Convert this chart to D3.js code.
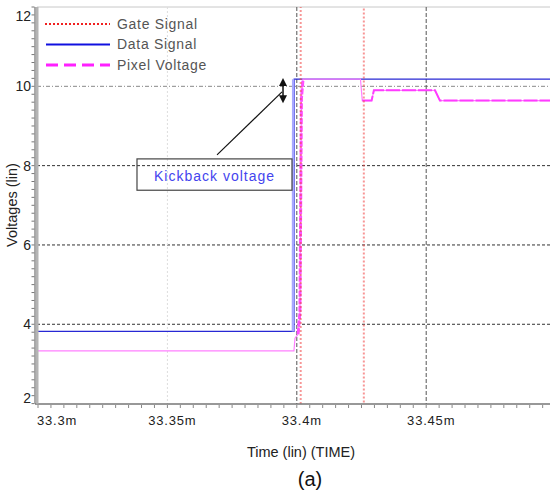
<!DOCTYPE html>
<html>
<head>
<meta charset="utf-8">
<script src="https://cdn.jsdelivr.net/npm/d3@7"></script>
<style>
  body { margin: 0; background: #fff; }
  text { font-family: "Liberation Sans", Arial, sans-serif; }
</style>
</head>
<body>
<svg width="550" height="490"></svg>
<script>
// time in ms, voltages in V
const dataTime = [33.3, 33.3989, 33.3990, 33.5];
const dataVolt = [3.82, 3.82, 10.18, 10.18];

const pixelTime = [33.3, 33.3989, 33.3993, 33.4005, 33.4012, 33.4018, 33.4024, 33.4246, 33.4253, 33.4289, 33.4298, 33.4534, 33.4553, 33.5];
const pixelVolt = [3.33, 3.33, 3.65, 3.75, 4.3, 9.7, 10.18, 10.18, 9.64, 9.64, 9.9, 9.9, 9.64, 9.64];

const gateTime = [33.3, 33.4015, 33.4015, 33.4259, 33.4259, 33.5];
const gateVolt = [-5, -5, 20, 20, -5, -5];

const xTicks = [33.3, 33.35, 33.4, 33.45];
const xTickLabels = ["33.3m", "33.35m", "33.4m", "33.45m"];
const yTicks = [2, 4, 6, 8, 10, 12];

const legendItems = ["Gate Signal", "Data Signal", "Pixel Voltage"];

const svg = d3.select("svg");

const x = d3.scaleLinear().domain([33.3, 33.5]).range([38, 555.6]);
const y = d3.scaleLinear().domain([2, 12]).range([403.6, 7]);

const plotLeft = 37, plotRight = 550;

svg.append("defs").append("clipPath").attr("id", "clip")
    .append("rect").attr("x", plotLeft).attr("y", y(12)).attr("width", plotRight - plotLeft).attr("height", y(2) - y(12));

// gridlines
const grid = svg.append("g");
grid.append("line")
    .attr("x1", plotLeft).attr("x2", plotRight).attr("y1", y(12)).attr("y2", y(12))
    .attr("stroke", "#c8c8c8").attr("stroke-width", 1);

[4, 6, 8].forEach(v => {
    grid.append("line")
        .attr("x1", plotLeft).attr("x2", plotRight).attr("y1", y(v)).attr("y2", y(v))
        .attr("stroke", "#333").attr("stroke-width", 1).attr("stroke-dasharray", "3,2");
});
grid.append("line")
    .attr("x1", plotLeft).attr("x2", plotRight).attr("y1", y(10)).attr("y2", y(10))
    .attr("stroke", "#888").attr("stroke-width", 1).attr("stroke-dasharray", "4,2,1,2");

grid.append("line")
    .attr("x1", x(33.35)).attr("x2", x(33.35)).attr("y1", y(12)).attr("y2", y(2))
    .attr("stroke", "#ddd").attr("stroke-width", 1).attr("stroke-dasharray", "2,2");
[33.4, 33.45].forEach(t => {
    grid.append("line")
        .attr("x1", x(t)).attr("x2", x(t)).attr("y1", y(12)).attr("y2", y(2))
        .attr("stroke", "#555").attr("stroke-width", 1).attr("stroke-dasharray", "4,2");
});

// series
const plot = svg.append("g").attr("clip-path", "url(#clip)");
const line = d3.line().x(d => x(d[0])).y(d => y(d[1]));
const pixelPts = d3.zip(pixelTime, pixelVolt);

plot.append("path")
    .datum(d3.zip(dataTime, dataVolt))
    .attr("d", line)
    .attr("fill", "none").attr("stroke", "#2828d4").attr("stroke-width", 1.3);

plot.append("path")
    .datum(d3.zip(dataTime, dataVolt).slice(1, 3))
    .attr("d", line)
    .attr("fill", "none").attr("stroke", "#a8a8ff").attr("stroke-width", 2.5)
    .attr("transform", "translate(-1,0)");

// thin trace for the whole pixel voltage
plot.append("path")
    .datum(pixelPts)
    .attr("d", line)
    .attr("fill", "none").attr("stroke", "#ff80ff").attr("stroke-width", 1.2);

// heavier dashed parts (charging edge and after gate turns off)
plot.append("path")
    .datum(pixelPts.slice(3, 7))
    .attr("d", line)
    .attr("fill", "none").attr("stroke", "#ff50ff").attr("stroke-width", 3)
    .attr("stroke-dasharray", "6,1.5");
plot.append("path")
    .datum(pixelPts.slice(8))
    .attr("d", line)
    .attr("fill", "none").attr("stroke", "#ff3cff").attr("stroke-width", 2)
    .attr("stroke-dasharray", "14,2");

plot.append("path")
    .datum(d3.zip(gateTime, gateVolt))
    .attr("d", line)
    .attr("fill", "none").attr("stroke", "#f04040").attr("stroke-width", 2)
    .attr("stroke-opacity", 0.55).attr("stroke-dasharray", "2,2");

// x axis
const xAxisY = 404;
svg.append("line")
    .attr("x1", plotLeft - 2).attr("x2", plotRight).attr("y1", xAxisY).attr("y2", xAxisY)
    .attr("stroke", "#333").attr("stroke-width", 1.2);
const xMinor = d3.range(0, 41).map(i => 33.3 + i * 0.005);
svg.append("g").selectAll("line").data(xMinor).join("line")
    .attr("x1", d => x(d)).attr("x2", d => x(d))
    .attr("y1", xAxisY + 1).attr("y2", d => xAxisY + 4)
    .attr("stroke", "#888").attr("stroke-width", 1);
svg.append("g").selectAll("text").data(xTicks).join("text")
    .attr("x", (d, i) => i === 0 ? x(d) - 1 : x(d) + 5)
    .attr("y", 425)
    .attr("text-anchor", (d, i) => i === 0 ? "start" : "middle")
    .attr("font-size", 13).attr("letter-spacing", 0.8).attr("fill", "#222")
    .text((d, i) => xTickLabels[i]);

svg.append("text")
    .attr("x", 301).attr("y", 457).attr("text-anchor", "middle")
    .attr("font-size", 14.5).attr("fill", "#222")
    .text("Time (lin) (TIME)");

// y axis
svg.append("rect").attr("x", 34.5).attr("y", y(12)).attr("width", 1).attr("height", y(2) - y(12)).attr("fill", "#555");
svg.append("rect").attr("x", 36).attr("y", y(12)).attr("width", 2.5).attr("height", y(2) - y(12)).attr("fill", "#b4b4b4");
const yMinor = d3.range(0, 51).map(i => 2 + i * 0.2);
svg.append("g").selectAll("line").data(yMinor).join("line")
    .attr("x1", 31.5).attr("x2", 34.5)
    .attr("y1", d => y(d)).attr("y2", d => y(d))
    .attr("stroke", "#777").attr("stroke-width", 1);
svg.append("g").selectAll("text").data(yTicks).join("text")
    .attr("x", 31)
    .attr("y", d => d === 12 ? y(d) + 14 : d === 2 ? y(d) - 1 : y(d) + 5)
    .attr("text-anchor", "end")
    .attr("font-size", 14).attr("fill", "#222")
    .text(d => d);

svg.append("text")
    .attr("transform", "translate(17,205) rotate(-90)")
    .attr("text-anchor", "middle")
    .attr("font-size", 14.5).attr("fill", "#222")
    .text("Voltages (lin)");

// legend
const legend = svg.append("g");
const legendY = [24, 44.5, 65];
legend.append("line").attr("x1", 45).attr("x2", 110).attr("y1", legendY[0]).attr("y2", legendY[0])
    .attr("stroke", "#f02020").attr("stroke-width", 2).attr("stroke-dasharray", "2,2");
legend.append("line").attr("x1", 46).attr("x2", 110).attr("y1", legendY[1]).attr("y2", legendY[1])
    .attr("stroke", "#1010e0").attr("stroke-width", 2);
legend.append("line").attr("x1", 46).attr("x2", 110).attr("y1", legendY[2]).attr("y2", legendY[2])
    .attr("stroke", "#ff20ff").attr("stroke-width", 3).attr("stroke-dasharray", "12,6");
legend.selectAll("text").data(legendItems).join("text")
    .attr("x", 117).attr("y", (d, i) => legendY[i] + 4.5)
    .attr("font-size", 14).attr("letter-spacing", 0.7).attr("fill", "#555")
    .text(d => d);

// kickback annotation
const ann = svg.append("g");
ann.append("rect")
    .attr("x", x(33.33825)).attr("y", y(8.17))
    .attr("width", x(33.39815) - x(33.33825)).attr("height", y(7.38) - y(8.17))
    .attr("fill", "none").attr("stroke", "#444").attr("stroke-width", 1.2);
ann.append("text")
    .attr("x", (x(33.33825) + x(33.39815)) / 2).attr("y", 181)
    .attr("text-anchor", "middle")
    .attr("font-size", 14).attr("letter-spacing", 1).attr("fill", "#4444ee")
    .text("Kickback voltage");
ann.append("line")
    .attr("x1", x(33.36917)).attr("y1", y(8.27))
    .attr("x2", x(33.39428)).attr("y2", y(9.86))
    .attr("stroke", "#111").attr("stroke-width", 1.2);

const ax = x(33.39467), aTop = y(10.21), aBot = y(9.57);
ann.append("line").attr("x1", ax).attr("x2", ax).attr("y1", aTop + 4).attr("y2", aBot - 4)
    .attr("stroke", "#111").attr("stroke-width", 1.5);
ann.append("path")
    .attr("d", `M${ax},${aTop} L${ax - 4},${aTop + 8} L${ax + 4},${aTop + 8} Z`)
    .attr("fill", "#111");
ann.append("path")
    .attr("d", `M${ax},${aBot} L${ax - 4},${aBot - 8} L${ax + 4},${aBot - 8} Z`)
    .attr("fill", "#111");

// caption
svg.append("text")
    .attr("x", 310).attr("y", 486).attr("text-anchor", "middle")
    .attr("font-family", "Liberation Serif, Times New Roman, serif")
    .attr("font-size", 20).attr("fill", "#111")
    .text("(a)");
</script>
</body>
</html>
